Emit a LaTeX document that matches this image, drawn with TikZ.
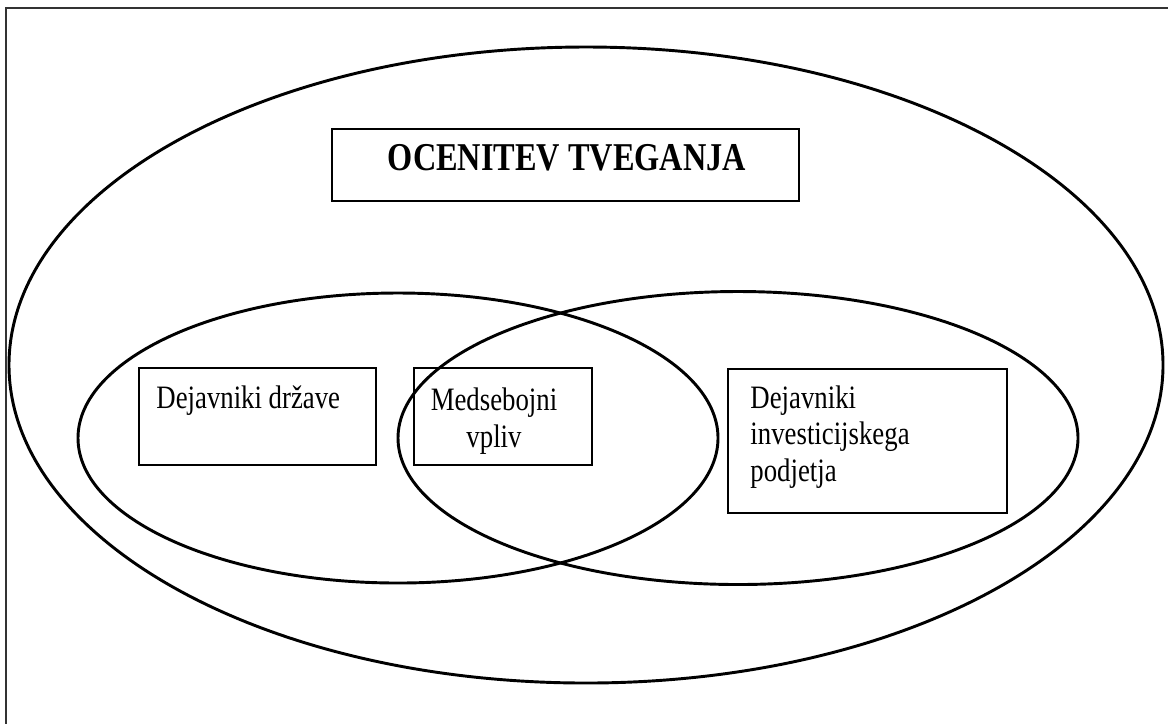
\documentclass[tikz,border=0pt]{standalone}
\usepackage{fontspec}
\setmainfont{Liberation Serif}[FakeStretch=0.82]
\usepackage{tikz}
\usetikzlibrary{shapes.geometric}
\usetikzlibrary{positioning}

\newcommand{\pu}{0.444pt}

\begin{document}
\begin{tikzpicture}[
        x=0.444pt,
        y=-0.444pt,
        oval/.style={
            ellipse,
            draw,
            line width=1.3pt,
            inner sep=0pt
        },
        box/.style={
            rectangle,
            draw,
            line width=0.8pt,
            inner sep=0pt
        },
        label/.style={
            inner sep=0pt,
            font=\fontsize{14.5}{16.2}\selectfont
        },
        ]

        \useasboundingbox (0,0) rectangle (1168,724);
        \coordinate (frame-top) at (1168,8);
        \coordinate (frame-corner) at (6,8);
        \coordinate (frame-bottom) at (6,724);
        \draw [line width=0.6pt,black!80] (frame-top) -- (frame-corner) -- (frame-bottom);

        \node [oval,minimum width=1154*\pu,minimum height=636*\pu] (outer) at (586,365) {};
        \node [oval,minimum width=640*\pu,minimum height=290*\pu] (state) at (398,438) {};
        \node [oval,minimum width=680*\pu,minimum height=293*\pu] (company) at (738,438) {};

        \node [box,minimum width=467*\pu,minimum height=72*\pu] (assessment-box) at (565.5,165) {};
        \node [box,minimum width=237*\pu,minimum height=97*\pu] (state-box) at (257.5,416.5) {};
        \node [box,minimum width=178*\pu,minimum height=97*\pu] (mutual-box) at (503,416.5) {};
        \node [box,minimum width=279*\pu,minimum height=144*\pu] (company-box) at (867.5,441) {};

        % multi-line labels: base is the last line
        \node [inner sep=0pt,anchor=base,font=\fontsize{17.5}{19}\selectfont\bfseries] (assessment) at (567,170) {OCENITEV TVEGANJA};
        \node [label,anchor=base west] (state-text) at (156,408) {Dejavniki države};
        \node [label,anchor=base,align=center] (mutual-text) at (494,447) {Medsebojni\\vpliv};
        \node [label,anchor=base west,align=left] (company-text) at (750,481) {Dejavniki\\investicijskega\\podjetja};
    \end{tikzpicture}
\end{document}
